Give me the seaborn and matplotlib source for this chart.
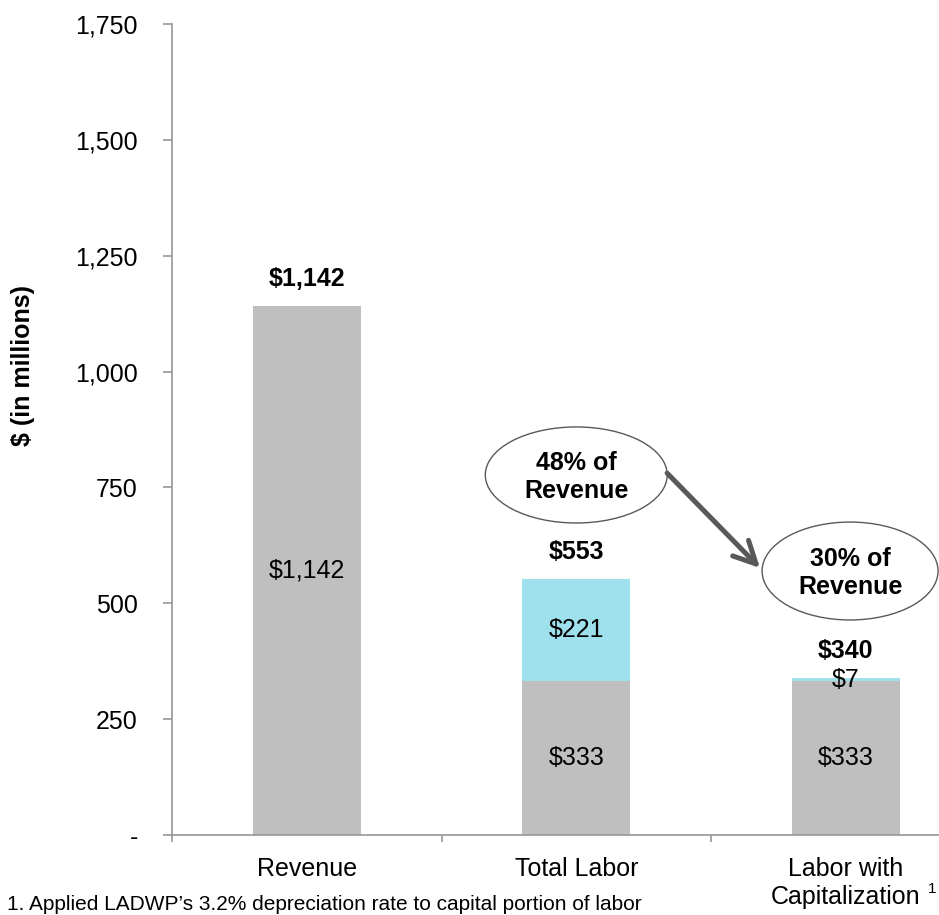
import matplotlib
matplotlib.use("Agg")
import matplotlib.pyplot as plt
import seaborn as sns
import pandas as pd
from matplotlib.patches import Ellipse
from matplotlib.ticker import FuncFormatter

# Chart data ($ in millions)
categories = ["Revenue", "Total Labor", "Labor with\nCapitalization"]
base_values = [1142.0, 332.6, 332.6]      # grey portion
capital_values = [0.0, 220.6, 7.0]        # light-blue portion
y_ticks = [0, 250, 500, 750, 1000, 1250, 1500, 1750]
callouts = ["48% of\nRevenue", "30% of\nRevenue"]
footnote = "1. Applied LADWP\u2019s 3.2% depreciation rate to capital portion of labor"

GREY = "#BFBFBF"
BLUE = "#9EE0EC"
AXIS = "#969696"
DARK = "#595959"

sns.set_style("white")
plt.rcParams["font.family"] = ["Liberation Sans", "DejaVu Sans"]
plt.rcParams["text.color"] = "black"
plt.rcParams["xtick.labelcolor"] = "black"
plt.rcParams["ytick.labelcolor"] = "black"

df = pd.DataFrame({"category": categories, "base": base_values, "capital": capital_values})
df["total"] = df["base"] + df["capital"]

fig = plt.figure(figsize=(9.39, 9.15), dpi=100)
ax = fig.add_axes([0.1832, 0.0869, 0.861, 0.8874])

# stacked bars: full total in blue, grey base drawn over it
sns.barplot(data=df, x="category", y="total", order=categories, color=BLUE,
            saturation=1, width=0.4, errorbar=None, linewidth=0, ax=ax)
sns.barplot(data=df, x="category", y="base", order=categories, color=GREY,
            saturation=1, width=0.4, errorbar=None, linewidth=0, ax=ax)

for i, row in df.iterrows():
    ax.text(i, row["base"] / 2, f"${row['base']:,.0f}", ha="center", va="center",
            fontsize=18, color="black")
    if row["capital"] > 0:
        ax.text(i, row["base"] + row["capital"] / 2, f"${row['capital']:,.0f}",
                ha="center", va="center", fontsize=18, color="black")
    ax.annotate(f"${row['total']:,.0f}", xy=(i, row["total"]), xytext=(0, 19.5),
                textcoords="offset points", ha="center", va="center",
                fontsize=18, fontweight="bold", color="black")

# callout ellipses with arrow
ellipse_specs = [((1.0, 777), 0.675, 207), ((2.016, 570), 0.653, 211)]
for (center, w, h), label in zip(ellipse_specs, callouts):
    ax.add_patch(Ellipse(center, w, h, facecolor="white", edgecolor=DARK, lw=1.0, zorder=4))
    ax.text(center[0], center[1] - 4, label, ha="center", va="center", fontsize=18,
            fontweight="bold", linespacing=1.2, color="black", zorder=5)

ax.annotate("", xy=(1.682, 576.5), xytext=(1.337, 781),
            arrowprops=dict(arrowstyle="->,head_length=0.8,head_width=0.4", color=DARK,
                            lw=3.6, mutation_scale=20, shrinkA=0, shrinkB=0),
            zorder=6)

# axes styling
ax.set_xlim(-0.5, 2.5)
ax.set_ylim(0, 1750)
ax.set_yticks(y_ticks)
ax.yaxis.set_major_formatter(FuncFormatter(lambda v, p: "-" if v == 0 else f"{v:,.0f}"))
ax.set_xticks([0, 1, 2])
ax.set_xticklabels(categories, fontsize=18, linespacing=1.2)
ax.set_xticks([-0.5, 0.5, 1.5, 2.5], minor=True)
ax.set_xlabel("")
ax.set_ylabel("")

for side in ("top", "right"):
    ax.spines[side].set_visible(False)
for side in ("left", "bottom"):
    ax.spines[side].set_color(AXIS)
    ax.spines[side].set_linewidth(1.2)

ax.tick_params(axis="y", left=True, length=6.5, width=1.2, color=AXIS, pad=18,
               labelsize=18, direction="out", labelcolor="black")
ax.tick_params(axis="x", which="major", bottom=True, length=0, pad=15.5, labelsize=18,
               labelcolor="black")
ax.tick_params(axis="x", which="minor", bottom=True, length=5, width=1.2, color=AXIS,
               direction="out")

fig.text(23 / 939, (915 - 365) / 915, "$ (in millions)", rotation=90, ha="center",
         va="center", fontsize=18, fontweight="bold", color="black")
fig.text(932 / 939, (915 - 889) / 915, "1", fontsize=11, ha="center", va="center",
         color="black")
fig.text(7 / 939, (915 - 910) / 915, footnote, fontsize=15, ha="left", va="baseline",
         color="black")

fig.savefig("out.png", dpi=100)
